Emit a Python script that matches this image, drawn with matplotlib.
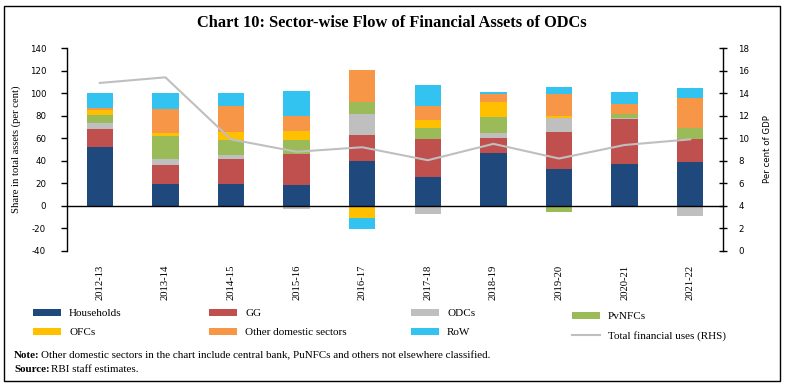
import matplotlib
matplotlib.use("Agg")
import matplotlib.pyplot as plt
import numpy as np
from matplotlib.patches import Patch, Rectangle
from matplotlib.lines import Line2D

plt.rcParams["axes.unicode_minus"] = False

years = ["2012-13", "2013-14", "2014-15", "2015-16", "2016-17",
         "2017-18", "2018-19", "2019-20", "2020-21", "2021-22"]

households = [52.0, 19.5, 19.5, 18.9, 40.0, 26.0, 47.0, 33.1, 36.7, 39.1]
gg         = [16.4, 16.9, 22.5, 27.3, 23.3, 32.9, 12.8, 32.0, 40.2, 20.4]
odcs       = [5.0, 5.0, 3.3, -2.4, 17.8, -7.4, 5.0, 13.0, 0.6, -9.2]
pvnfcs     = [6.8, 20.7, 13.0, 12.4, 10.9, 9.8, 13.9, -5.0, 3.9, 9.5]
ofcs       = [4.4, 2.7, 7.4, 8.0, -10.4, 7.7, 13.6, 1.8, 0.3, 0.0]
other_dom  = [2.1, 21.3, 22.8, 12.7, 28.2, 12.4, 7.1, 19.2, 8.9, 26.3]
row        = [13.3, 13.9, 11.5, 22.8, -10.0, 18.3, 1.2, 6.0, 10.3, 8.9]
total_uses = [14.9, 15.4, 9.9, 8.8, 9.2, 8.05, 9.5, 8.2, 9.4, 9.9]

series = [
    ("Households", households, "#1F497D"),
    ("GG", gg, "#C0504D"),
    ("ODCs", odcs, "#BFBFBF"),
    ("PvNFCs", pvnfcs, "#9BBB59"),
    ("OFCs", ofcs, "#FFC000"),
    ("Other domestic sectors", other_dom, "#F79646"),
    ("RoW", row, "#33C3F0"),
]
line_color = "#BFBFBF"

serif = "Liberation Serif"
sans = "DejaVu Sans"

fig = plt.figure(figsize=(7.85, 3.85), dpi=100)
W, H = 785, 385
ax = fig.add_axes([67 / W, 1 - 251 / H, (723 - 67) / W, (251 - 48) / H])

x = np.arange(len(years))
pos_bottom = np.zeros(len(years))
neg_bottom = np.zeros(len(years))
handles = {}
for name, vals, col in series:
    v = np.array(vals, dtype=float)
    bottoms = np.where(v >= 0, pos_bottom, neg_bottom)
    ax.bar(x, v, width=0.4, bottom=bottoms, color=col, linewidth=0, zorder=2)
    pos_bottom = pos_bottom + np.where(v >= 0, v, 0)
    neg_bottom = neg_bottom + np.where(v < 0, v, 0)
    handles[name] = Patch(facecolor=col, edgecolor="none")

ax.axhline(0, color="black", lw=1.0, zorder=3)
ax.set_xlim(-0.5, len(years) - 0.5)
ax.set_ylim(-40, 140)
ax.set_yticks(np.arange(-40, 141, 20))
ax.set_xticks(x)
ax.set_xticklabels(years, rotation=90, fontfamily=serif, fontsize=7.7)
ax.tick_params(axis="x", length=0, pad=10)
ax.tick_params(axis="y", direction="out", length=4, width=1, pad=11, labelsize=6.2)
for lab in ax.get_yticklabels():
    lab.set_fontfamily(sans)
for s in ["top", "right", "bottom"]:
    ax.spines[s].set_visible(False)
ax.spines["left"].set_linewidth(1)
ax.set_ylabel("Share in total assets (per cent)", fontfamily=serif, fontsize=7.7, labelpad=6)

ax2 = ax.twinx()
ax2.plot(x, total_uses, color=line_color, lw=1.5, zorder=5)
ax2.set_ylim(0, 18)
ax2.set_yticks(np.arange(0, 19, 2))
ax2.tick_params(axis="y", direction="inout", length=6, width=1, pad=8, labelsize=6.2)
for lab in ax2.get_yticklabels():
    lab.set_fontfamily(sans)
for s in ["top", "left", "bottom"]:
    ax2.spines[s].set_visible(False)
ax2.spines["right"].set_linewidth(1)
ax2.set_ylabel("Per cent of GDP", fontfamily=sans, fontsize=6.2, labelpad=10)
handles["Total financial uses (RHS)"] = Line2D([0], [0], color=line_color, lw=1.5)

fig.text(392 / W, 1 - 23 / H, "Chart 10: Sector-wise Flow of Financial Assets of ODCs",
         ha="center", va="center", fontfamily=serif, fontsize=11.8, fontweight="bold")

cols = [
    (33, 313, ["Households", "OFCs"]),
    (209, 313, ["GG", "Other domestic sectors"]),
    (411, 313, ["ODCs", "RoW"]),
    (572, 316, ["PvNFCs", "Total financial uses (RHS)"]),
]
for cx, cy, names in cols:
    fig.legend([handles[n] for n in names], names,
               loc="upper left", bbox_to_anchor=(cx / W, 1 - (cy - 4) / H),
               frameon=False, borderpad=0, borderaxespad=0,
               handlelength=2.5, handleheight=0.6, handletextpad=0.75,
               labelspacing=0.85, prop={"family": serif, "size": 8})

fs_note = 7.9
fig.text(14 / W, 1 - 356 / H, "Note:", fontsize=fs_note, va="center", fontfamily=serif,
         fontweight="bold")
fig.text(41 / W, 1 - 356 / H,
         "Other domestic sectors in the chart include central bank, PuNFCs and others not elsewhere classified.",
         fontsize=fs_note, va="center", fontfamily=serif)
fig.text(14 / W, 1 - 369 / H, "Source:", fontsize=fs_note, va="center", fontfamily=serif,
         fontweight="bold")
fig.text(51 / W, 1 - 369 / H, "RBI staff estimates.", fontsize=fs_note, va="center",
         fontfamily=serif)

fig.patches.append(Rectangle((4 / W, 1 - 381 / H), (780 - 4) / W, (381 - 6) / H,
                             transform=fig.transFigure, fill=False, edgecolor="black", lw=1))

fig.savefig("out.png", dpi=100)
